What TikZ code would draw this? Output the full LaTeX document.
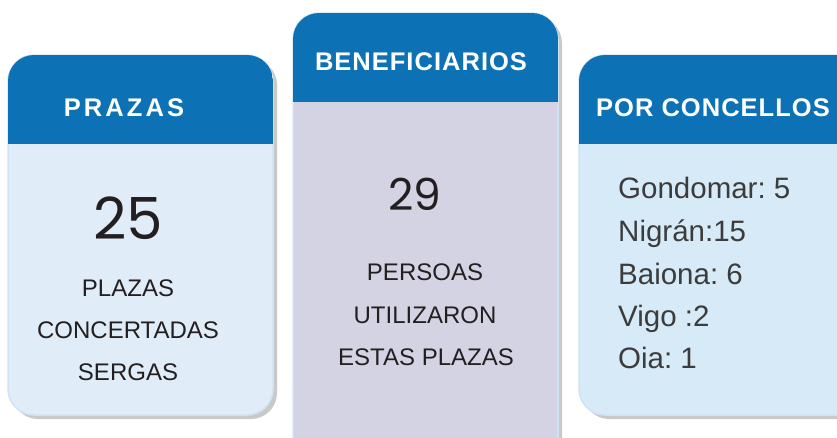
\documentclass[tikz,border=0pt]{standalone}
\usepackage{fontspec}
\setmainfont{Liberation Sans}
\newfontfamily\numfont{Poppins}
\frenchspacing

\definecolor{headblue}{HTML}{0D71B5}
\definecolor{cardblue}{HTML}{E0EDF8}
\definecolor{cardlilac}{HTML}{D4D3E3}
\definecolor{cardsky}{HTML}{D6EAF8}
\definecolor{edgeblue}{HTML}{CFE3F4}
\definecolor{shadowgray}{HTML}{C9C9C9}
\definecolor{textdark}{HTML}{231F20}
\definecolor{textgray}{HTML}{3C3C3C}

\tikzset{
  card/.style={rounded corners=26pt},
  title/.style={inner sep=0pt, text=white,
    font=\fontsize{25.5}{25.5}\selectfont\bfseries\addfontfeature{LetterSpace=4}},
  titlewide/.style={inner sep=0pt, text=white,
    font=\fontsize{25.5}{25.5}\selectfont\bfseries\addfontfeature{LetterSpace=12}},
  bignum/.style={inner sep=0pt, text=textdark, font=\numfont\fontsize{58}{58}\selectfont},
  midnum/.style={inner sep=0pt, text=textdark, font=\numfont\fontsize{44}{44}\selectfont},
  body/.style={inner sep=0pt, text=textdark, font=\fontsize{24}{24}\selectfont},
  town/.style={inner sep=0pt, anchor=base west, text=textgray, font=\fontsize{29.5}{29.5}\selectfont}
}

\begin{document}
\begin{tikzpicture}[x=1pt,y=-1pt]
    \useasboundingbox (0,0) rectangle (837,437);

    % Card 1: prazas
    \fill[shadowgray, card] (12,59) rectangle (277,419);
    \draw[edgeblue, fill=cardblue, line width=1.5pt, card] (8,55) rectangle (273,415);
    \begin{scope}
        \clip[card] (8,55) rectangle (273,415);
        \fill[headblue] (8,50) rectangle (273,144);
    \end{scope}
    \node[titlewide] (prazas) at (124,108) {PRAZAS};
    \node[bignum] (num25) at (128,218) {25};
    \node[body] (plazas) at (128,288) {PLAZAS};
    \node[body] (concertadas) at (128,330) {CONCERTADAS};
    \node[body] (sergas) at (128,372) {SERGAS};

    % Card 2: beneficiarios
    \fill[shadowgray, card] (297,17) rectangle (562,470);
    \draw[edgeblue, fill=cardlilac, line width=1.5pt, card] (293,13) rectangle (558,466);
    \begin{scope}
        \clip[card] (293,13) rectangle (558,466);
        \fill[headblue] (293,8) rectangle (558,102);
    \end{scope}
    \node[title] (benef) at (421,62) {BENEFICIARIOS};
    \node[midnum] (num29) at (415,194) {29};
    \node[body] (persoas) at (425,272) {PERSOAS};
    \node[body] (utilizaron) at (425,315) {UTILIZARON};
    \node[body] (estas) at (426,357) {ESTAS PLAZAS};

    % Card 3: por concellos
    \fill[shadowgray, card] (583,59) rectangle (870,419);
    \draw[edgeblue, fill=cardsky, line width=1.5pt, card] (579,55) rectangle (866,415);
    \begin{scope}
        \clip[card] (579,55) rectangle (866,415);
        \fill[headblue] (579,50) rectangle (866,144);
    \end{scope}
    \node[title] (concellos) at (713,108) {POR CONCELLOS};
    \node[town] (gondomar) at (618,198) {Gondomar: 5};
    \node[town] (nigran) at (618,241) {Nigrán:15};
    \node[town] (baiona) at (618,284) {Baiona: 6};
    \node[town] (vigo) at (618,326) {Vigo :2};
    \node[town] (oia) at (618,368) {Oia: 1};
\end{tikzpicture}
\end{document}
